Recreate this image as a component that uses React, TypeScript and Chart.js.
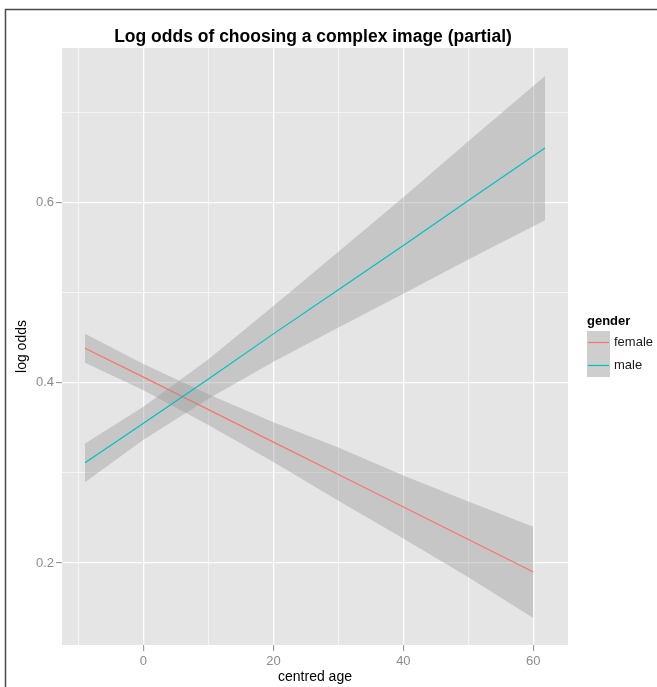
import React, { useEffect, useRef } from "react";
import { Chart, registerables } from "chart.js";

Chart.register(...registerables);

const chartTitle = "Log odds of choosing a complex image (partial)";
const xTitle = "centred age";
const yTitle = "log odds";
const legendTitle = "gender";
const groupNames = ["female", "male"];
const groupColors = ["#F8766D", "#00BFC4"];

const xTickValues = [-10, 0, 10, 20, 30, 40, 50, 60];
const xLabelValues = [0, 20, 40, 60];
const yTickValues = [0.2, 0.3, 0.4, 0.5, 0.6, 0.7];
const yLabelValues = [0.2, 0.4, 0.6];

const femaleAge = [-9, 0, 10, 20, 30, 40, 50, 60];
const femaleFit = [0.438, 0.406, 0.37, 0.334, 0.298, 0.262, 0.226, 0.19];
const femaleUpper = [0.454, 0.4205, 0.387, 0.356, 0.328, 0.297, 0.268, 0.24];
const femaleLower = [0.422, 0.3915, 0.353, 0.312, 0.269, 0.227, 0.184, 0.139];

const maleAge = [-9, 0, 10, 20, 30, 40, 50, 61.8];
const maleFit = [0.311, 0.355, 0.404, 0.454, 0.503, 0.552, 0.602, 0.66];
const maleUpper = [0.3325, 0.3733, 0.426, 0.485, 0.545, 0.6056, 0.6676, 0.74];
const maleLower = [0.2895, 0.3367, 0.382, 0.423, 0.461, 0.4984, 0.5364, 0.58];

const FONT = '"Liberation Sans", Arial, sans-serif';
const BAND = "rgba(153,153,153,0.4)";

const pts = (xs: number[], ys: number[]) => xs.map((x, i) => ({ x, y: ys[i] }));

const decorPlugin = {
  id: "decor",
  beforeDraw(chart: any) {
    const { ctx, chartArea } = chart;
    ctx.save();
    ctx.fillStyle = "#ffffff";
    ctx.fillRect(0, 0, chart.width, chart.height);
    ctx.fillStyle = "#E5E5E5";
    ctx.fillRect(chartArea.left, chartArea.top, chartArea.right - chartArea.left, chartArea.bottom - chartArea.top);
    ctx.restore();
  },
  afterDraw(chart: any) {
    const { ctx, chartArea } = chart;
    const cx = (chartArea.left + chartArea.right) / 2;
    const cy = (chartArea.top + chartArea.bottom) / 2;
    ctx.save();
    // title
    ctx.fillStyle = "#000000";
    ctx.font = `bold 17.5px ${FONT}`;
    ctx.textAlign = "center";
    ctx.textBaseline = "middle";
    ctx.fillText(chartTitle, cx - 2, 37);
    // x title
    ctx.font = `14px ${FONT}`;
    ctx.fillText(xTitle, cx, 677);
    // y title
    ctx.save();
    ctx.translate(22, cy);
    ctx.rotate(-Math.PI / 2);
    ctx.fillText(yTitle, 0, 0);
    ctx.restore();
    // legend
    const lx = 587;
    ctx.textAlign = "left";
    ctx.font = `bold 13px ${FONT}`;
    ctx.fillText(legendTitle, lx, 321);
    ctx.font = `13px ${FONT}`;
    groupNames.forEach((name, i) => {
      const top = 331 + i * 23;
      ctx.fillStyle = "#F2F2F2";
      ctx.fillRect(lx, top, 23, 23);
      ctx.fillStyle = BAND;
      ctx.fillRect(lx, top, 23, 23);
      ctx.strokeStyle = groupColors[i];
      ctx.lineWidth = 1.2;
      ctx.beginPath();
      ctx.moveTo(lx + 1, top + 11.5);
      ctx.lineTo(lx + 22, top + 11.5);
      ctx.stroke();
      ctx.fillStyle = "#1a1a1a";
      ctx.fillText(name, lx + 27, top + 11.5);
    });
    // frame
    ctx.strokeStyle = "#4a4a4a";
    ctx.lineWidth = 1.5;
    ctx.beginPath();
    ctx.moveTo(5.5, chart.height);
    ctx.lineTo(5.5, 9.5);
    ctx.lineTo(chart.width, 9.5);
    ctx.stroke();
    ctx.restore();
  },
};

export default function App() {
  const ref = useRef<HTMLCanvasElement | null>(null);
  useEffect(() => {
    if (!ref.current) return;
    const bandSet = (data: any[], order: number) => ({
      data,
      fill: "+1",
      backgroundColor: BAND,
      borderColor: "rgba(0,0,0,0)",
      borderWidth: 0,
      pointRadius: 0,
      order,
    });
    const lowSet = (data: any[], order: number) => ({
      data,
      fill: false,
      borderColor: "rgba(0,0,0,0)",
      borderWidth: 0,
      pointRadius: 0,
      order,
    });
    const lineSet = (data: any[], color: string, order: number) => ({
      data,
      fill: false,
      borderColor: color,
      borderWidth: 1.2,
      pointRadius: 0,
      order,
    });
    const chart = new Chart(ref.current, {
      type: "line",
      data: {
        datasets: [
          bandSet(pts(femaleAge, femaleUpper), 4),
          lowSet(pts(femaleAge, femaleLower), 4),
          lineSet(pts(femaleAge, femaleFit), groupColors[0], 3),
          bandSet(pts(maleAge, maleUpper), 2),
          lowSet(pts(maleAge, maleLower), 2),
          lineSet(pts(maleAge, maleFit), groupColors[1], 1),
        ] as any,
      },
      options: {
        animation: false,
        responsive: false,
        devicePixelRatio: 1,
        layout: { padding: { top: 48, right: 89, left: 0, bottom: 0 } },
        plugins: {
          legend: { display: false },
          title: { display: false },
          tooltip: { enabled: false },
        },
        elements: { line: { tension: 0 } },
        scales: {
          x: {
            type: "linear",
            min: -12.54,
            max: 65.34,
            afterBuildTicks: (s: any) => {
              s.ticks = xTickValues.map((v) => ({ value: v }));
            },
            afterFit: (s: any) => {
              s.height = 42;
            },
            border: { display: false },
            grid: {
              color: "#ffffff",
              lineWidth: (c: any) => (xLabelValues.includes(c.tick?.value) ? 1.3 : 0.6),
              tickColor: (c: any) => (xLabelValues.includes(c.tick?.value) ? "#8c8c8c" : "rgba(0,0,0,0)"),
              tickLength: 6,
              tickWidth: 1,
            },
            ticks: {
              autoSkip: false,
              maxRotation: 0,
              padding: 3,
              color: "#8c8c8c",
              font: { family: FONT, size: 13 },
              callback: (v: any) => (xLabelValues.includes(v) ? String(v) : ""),
            },
          },
          y: {
            type: "linear",
            min: 0.109,
            max: 0.771,
            afterBuildTicks: (s: any) => {
              s.ticks = yTickValues.map((v) => ({ value: v }));
            },
            afterFit: (s: any) => {
              s.width = 62;
            },
            border: { display: false },
            grid: {
              color: "#ffffff",
              lineWidth: (c: any) => (yLabelValues.includes(c.tick?.value) ? 1.3 : 0.6),
              tickColor: (c: any) => (yLabelValues.includes(c.tick?.value) ? "#8c8c8c" : "rgba(0,0,0,0)"),
              tickLength: 6,
              tickWidth: 1,
            },
            ticks: {
              autoSkip: false,
              padding: 2,
              color: "#8c8c8c",
              font: { family: FONT, size: 13 },
              callback: (v: any) => (yLabelValues.includes(v) ? String(v) : ""),
            },
          },
        },
      },
      plugins: [decorPlugin],
    } as any);
    return () => chart.destroy();
  }, []);
  return (
    <div style={{ position: "absolute", left: 0, top: 0, width: 657, height: 687 }}>
      <canvas ref={ref} width={657} height={687} style={{ display: "block" }} />
    </div>
  );
}
